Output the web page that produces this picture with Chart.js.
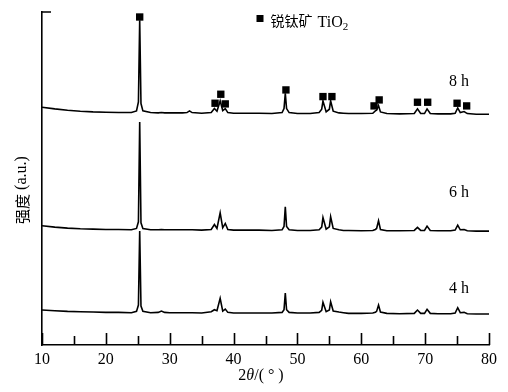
<!DOCTYPE html>
<html><head><meta charset="utf-8">
<script src="https://cdn.jsdelivr.net/npm/chart.js@4/dist/chart.umd.min.js"></script>
<style>html,body{margin:0;padding:0;background:#fff}#wrap{width:508px;height:392px}</style>
</head><body><div id="wrap"><canvas id="c" width="508" height="392"></canvas></div>
<script>
// 2θ grid (degrees)
const twoTheta = [10,12,14,16,18,20,22,24,24.8,25.1,25.3,25.5,25.8,27,28.2,28.7,29.2,30,32,32.7,33.1,33.5,35,36.5,37.0,37.4,37.9,38.3,38.7,39.1,40,42,44,46,47.6,47.9,48.1,48.3,48.7,50,52,53.4,53.8,54.0,54.5,55.0,55.2,55.6,56.5,57.2,58,60,61.8,62.2,62.4,62.7,63.0,64,66,68.3,68.8,69.3,69.9,70.3,70.8,72,74,74.7,75.1,75.5,76.1,76.6,78,80];
// intensity (a.u., stacked offsets as drawn)
const int8h = [71.4,70.9,70.5,70.2,70.0,69.9,69.8,69.8,70.3,73.0,97.5,72.5,70.3,69.8,69.7,69.8,69.7,69.7,69.7,69.8,70.3,69.8,69.6,69.8,71.0,70.2,73.3,70.4,71.0,69.8,69.6,69.6,69.6,69.5,69.8,71.0,75.6,71.0,69.8,69.5,69.5,69.8,70.8,73.3,70.0,70.8,73.3,70.2,69.7,69.6,69.5,69.5,69.6,70.3,70.5,71.9,70.0,69.5,69.4,69.5,70.9,69.5,69.5,70.9,69.5,69.4,69.4,69.6,71.2,69.8,70.1,69.5,69.3,69.3];
const int6h = [35.8,35.4,35.1,34.9,34.8,34.7,34.7,34.6,35.0,37.0,67.0,36.7,35.0,34.6,34.6,34.7,34.6,34.6,34.6,34.6,34.6,34.6,34.5,34.7,36.2,35.0,39.7,35.2,36.5,34.7,34.5,34.5,34.5,34.4,34.6,35.6,41.5,35.6,34.6,34.4,34.4,34.6,35.4,38.3,34.8,35.5,38.5,35.0,34.6,34.4,34.4,34.3,34.4,34.7,35.0,37.3,34.7,34.3,34.3,34.4,35.3,34.4,34.4,35.7,34.4,34.3,34.3,34.5,36.0,34.6,34.7,34.3,34.2,34.2];
const int4h = [10.5,10.3,10.1,10.0,9.9,9.8,9.8,9.7,10.1,12.0,34.2,11.7,10.1,9.7,9.8,10.2,9.8,9.7,9.7,9.7,9.7,9.7,9.6,10.0,10.6,10.3,14.0,10.2,10.8,9.8,9.6,9.6,9.6,9.6,9.8,10.6,15.6,10.6,9.8,9.6,9.6,9.8,10.4,12.8,10.0,10.5,13.0,10.2,9.9,9.7,9.5,9.5,9.6,9.8,10.1,12.0,9.9,9.5,9.4,9.5,10.5,9.5,9.5,10.7,9.5,9.4,9.4,9.6,11.2,9.7,9.8,9.4,9.3,9.3];
// anatase peak markers
const markX = [25.3,37.1,38.0,38.7,48.2,54.0,55.4,62.0,62.8,68.8,70.4,75.0,76.5];
const markY = [98.5,72.6,75.3,72.4,76.6,74.6,74.6,71.8,73.6,72.9,72.9,72.6,71.8];
const xTicks = [10,15,20,25,30,35,40,45,50,55,60,65,70,75,80];
const seriesNames = ['8 h','6 h','4 h'];
const legendName = ['锐钛矿', 'TiO', '2'];

const pts = arr => twoTheta.map((x,i)=>({x:x,y:arr[i]}));
const lineDs = (label,arr) => ({label:label,data:pts(arr),showLine:true,borderColor:'#000',borderWidth:1.6,pointRadius:0,tension:0,fill:false});

const SERIF = '"Liberation Serif", "Times New Roman", serif';
const CJK = '"Noto Sans CJK SC", sans-serif';

const deco = {
  id:'deco',
  afterDraw(chart){
    const ctx = chart.ctx, xs = chart.scales.x, ys = chart.scales.y;
    ctx.save();
    ctx.strokeStyle='#000'; ctx.lineWidth=1.6;
    ctx.beginPath();
    xTicks.forEach(v=>{const px=Math.round(xs.getPixelForValue(v))+0.5;const len=(v%10===0)?12:9;ctx.moveTo(px,xs.top);ctx.lineTo(px,xs.top-len);});
    const py=ys.getPixelForValue(ys.max);
    ctx.moveTo(ys.right,py);ctx.lineTo(ys.right+9,py);
    ctx.stroke();
    ctx.fillStyle='#000';
    // curve labels
    ctx.font='16px '+SERIF; ctx.textAlign='center'; ctx.textBaseline='alphabetic';
    ctx.fillText(seriesNames[0],459,86);
    ctx.fillText(seriesNames[1],459,197);
    ctx.fillText(seriesNames[2],459,293);
    // legend
    ctx.fillRect(256.5,15,7,7);
    ctx.textAlign='left';
    ctx.font='14px '+CJK; ctx.fillText(legendName[0],270.5,26);
    ctx.font='16px '+SERIF; ctx.fillText(legendName[1],317.5,26.7);
    const w=ctx.measureText(legendName[1]).width;
    ctx.font='11px '+SERIF; ctx.fillText(legendName[2],317.5+w,30);
    // x title: 2θ/( ° )
    const parts=[['2','16px '+SERIF],['θ','italic 16px '+SERIF],['/( ° )','16px '+SERIF]];
    let tw=0; parts.forEach(p=>{ctx.font=p[1];tw+=ctx.measureText(p[0]).width;});
    let cx=261-tw/2;
    parts.forEach(p=>{ctx.font=p[1];ctx.fillText(p[0],cx,380);cx+=ctx.measureText(p[0]).width;});
    // y title
    ctx.translate(22,190); ctx.rotate(-Math.PI/2);
    const yparts=[['强度','15px '+CJK],[' (a.u.)','16px '+SERIF]];
    let yw=0; yparts.forEach(p=>{ctx.font=p[1];yw+=ctx.measureText(p[0]).width;});
    let yx=-yw/2; ctx.textBaseline='middle';
    yparts.forEach(p=>{ctx.font=p[1];ctx.fillText(p[0],yx,0);yx+=ctx.measureText(p[0]).width;});
    ctx.restore();
  }
};

new Chart(document.getElementById('c'),{
  type:'scatter',
  data:{datasets:[
    lineDs(seriesNames[0],int8h),
    lineDs(seriesNames[1],int6h),
    lineDs(seriesNames[2],int4h),
    {label:'锐钛矿 TiO2',data:markX.map((x,i)=>({x:x,y:markY[i]})),showLine:false,pointStyle:'rect',pointRadius:5.2,pointHoverRadius:5.2,backgroundColor:'#000',borderColor:'#000',borderWidth:0}
  ]},
  options:{
    responsive:false,animation:false,devicePixelRatio:1,
    layout:{padding:{top:12,right:19,left:0,bottom:0}},
    plugins:{legend:{display:false},tooltip:{enabled:false}},
    scales:{
      x:{type:'linear',min:10,max:80,
        afterBuildTicks:s=>{s.ticks=xTicks.map(v=>({value:v}));},
        afterFit:s=>{s.height=47;},
        ticks:{autoSkip:false,maxRotation:0,color:'#000',font:{family:SERIF,size:16},padding:5,callback:v=>(v%10===0?String(v):'')},
        grid:{display:true,drawOnChartArea:false,drawTicks:false},
        border:{display:true,color:'#000',width:1.6}},
      y:{min:0,max:100,
        afterFit:s=>{s.width=42;},
        ticks:{display:false},
        grid:{display:true,drawOnChartArea:false,drawTicks:false},
        border:{display:true,color:'#000',width:1.6}}
    }
  },
  plugins:[deco]
});
</script>
</body></html>
